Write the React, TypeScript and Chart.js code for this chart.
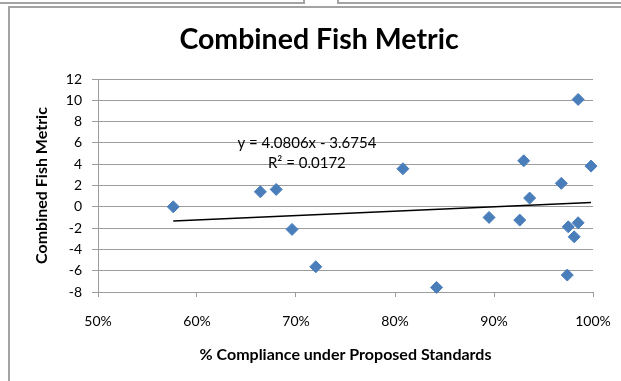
import React, { useEffect, useRef } from "react";
import { Chart, registerables } from "chart.js";

Chart.register(...registerables);

// ---- data ----
const compliance = [0.576, 0.664, 0.680, 0.696, 0.720, 0.808, 0.842, 0.895, 0.926, 0.930, 0.936, 0.968, 0.985, 0.998, 0.975, 0.985, 0.981, 0.974];
const fishMetric = [0.0, 1.41, 1.63, -2.12, -5.63, 3.57, -7.57, -1.0, -1.25, 4.32, 0.82, 2.2, 10.08, 3.82, -1.88, -1.5, -2.82, -6.41];
const trendX = [0.576, 0.998];
const trendY = [-1.325, 0.397];
const xTickValues = [0.5, 0.6, 0.7, 0.8, 0.9, 1.0];
const yTickValues = [-8, -6, -4, -2, 0, 2, 4, 6, 8, 10, 12];
const chartTitle = "Combined Fish Metric";
const xAxisTitle = "% Compliance under Proposed Standards";
const yAxisTitle = "Combined Fish Metric";
const trendEquation = "y = 4.0806x - 3.6754";
const trendR2 = "R\u00B2 = 0.0172";
const trendLabelAt = { x: 0.711, y1: 6.02, y2: 4.14 };

const FONT = "Lato, 'Noto Sans', sans-serif";
const GRID = "#9c9c9c";

const overlayPlugin = {
  id: "overlay",
  afterDraw(chart: any) {
    const ctx = chart.ctx;
    const xs = chart.scales.x;
    const ys = chart.scales.y;
    ctx.save();
    ctx.fillStyle = "#000";
    ctx.textAlign = "center";
    ctx.textBaseline = "middle";
    ctx.font = `bold 28.5px ${FONT}`;
    ctx.fillText(chartTitle, 319, 40);
    ctx.font = `15px ${FONT}`;
    const px = xs.getPixelForValue(trendLabelAt.x);
    ctx.fillText(trendEquation, px, ys.getPixelForValue(trendLabelAt.y1));
    ctx.fillText(trendR2, px, ys.getPixelForValue(trendLabelAt.y2));
    ctx.restore();
  },
};

export default function App() {
  const ref = useRef<HTMLCanvasElement | null>(null);
  useEffect(() => {
    if (!ref.current) return;
    Chart.defaults.font.family = FONT;
    Chart.defaults.color = "#000";
    const chart = new Chart(ref.current, {
      type: "scatter",
      data: {
        datasets: [
          {
            type: "line",
            data: trendX.map((x, i) => ({ x, y: trendY[i] })),
            borderColor: "#000",
            borderWidth: 1.5,
            pointRadius: 0,
            fill: false,
            order: 2,
          } as any,
          {
            data: compliance.map((x, i) => ({ x, y: fishMetric[i] })),
            pointStyle: "rectRot",
            pointRadius: 6,
            backgroundColor: "#4A7EBB",
            borderColor: "#4A7EBB",
            borderWidth: 1,
            clip: false,
            order: 1,
          },
        ],
      },
      options: {
        responsive: false,
        animation: false,
        events: [],
        devicePixelRatio: 1,
        layout: { padding: { left: 0, top: 79, right: 28, bottom: 0 } },
        plugins: { legend: { display: false }, tooltip: { enabled: false }, title: { display: false } },
        scales: {
          x: {
            type: "linear",
            min: 0.5,
            max: 1.0,
            afterBuildTicks: (s: any) => {
              s.ticks = xTickValues.map((v) => ({ value: v }));
            },
            afterFit: (s: any) => {
              s.height = 89;
              s.paddingLeft = 0;
              s.paddingRight = 0;
              s.paddingTop = 0;
              s.paddingBottom = 0;
            },
            ticks: {
              font: { size: 14 },
              padding: 16,
              maxRotation: 0,
              callback: (v: any) => Math.round(Number(v) * 100) + "%",
            },
            grid: { drawOnChartArea: false, drawTicks: true, tickLength: 5, color: GRID },
            border: { display: true, color: GRID, width: 1 },
            title: { display: true, text: xAxisTitle, font: { size: 16, weight: "bold" }, padding: { top: 0, bottom: 17 } },
          },
          y: {
            type: "linear",
            min: -8,
            max: 12,
            afterBuildTicks: (s: any) => {
              s.ticks = yTickValues.map((v) => ({ value: v }));
            },
            afterFit: (s: any) => {
              s.width = 98;
              s.paddingLeft = 0;
              s.paddingRight = 0;
              s.paddingTop = 0;
              s.paddingBottom = 0;
            },
            ticks: { font: { size: 14 }, padding: 10 },
            grid: { drawTicks: true, tickLength: 6, color: GRID },
            border: { display: true, color: GRID, width: 1 },
            title: { display: true, text: yAxisTitle, font: { size: 16, weight: "bold" }, padding: { top: 32, bottom: 0 } },
          },
        },
      },
      plugins: [overlayPlugin],
    } as any);
    return () => chart.destroy();
  }, []);

  const line = "#a3a3a3";
  return (
    <div style={{ position: "fixed", left: 0, top: 0, width: 621, height: 381, background: "#fff", overflow: "hidden" }}>
      <canvas ref={ref} width={621} height={381} style={{ position: "absolute", left: 0, top: 0, width: 621, height: 381 }} />
      <div style={{ position: "absolute", left: -4, top: -4, width: 307, height: 6, borderRight: `2px solid ${line}`, borderBottom: `2px solid ${line}` }} />
      <div style={{ position: "absolute", left: 337, top: -4, width: 300, height: 6, borderLeft: `2px solid ${line}`, borderBottom: `2px solid ${line}` }} />
      <div style={{ position: "absolute", left: 8, top: 6, width: 640, height: 400, borderLeft: `2px solid ${line}`, borderTop: `2px solid ${line}` }} />
    </div>
  );
}
